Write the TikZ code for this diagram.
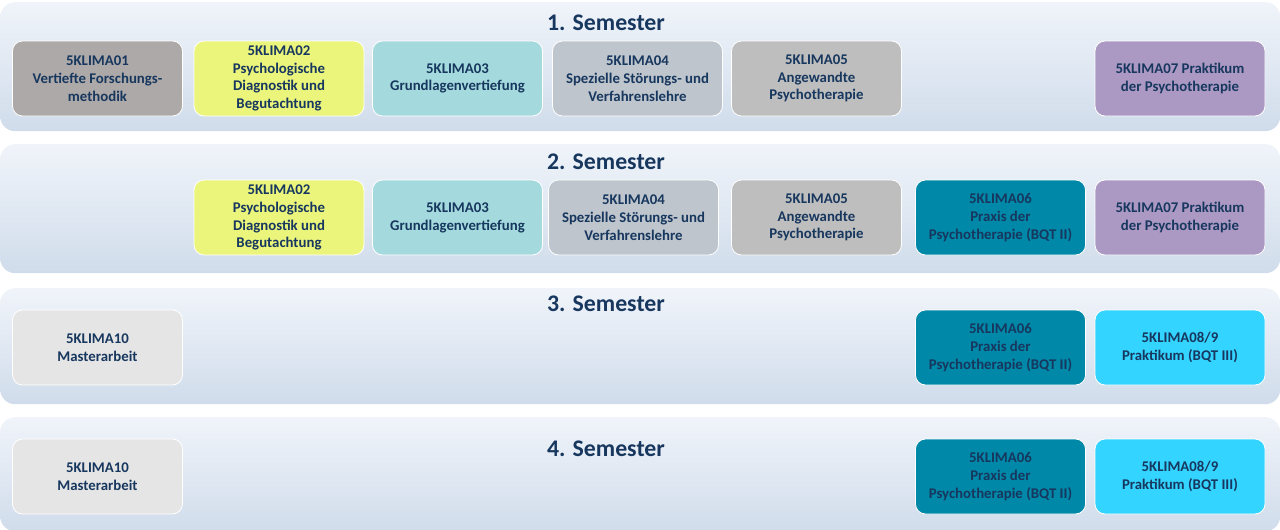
\documentclass[tikz,border=0pt]{standalone}
\usepackage{fontspec}
\setmainfont{Carlito}
\definecolor{navy}{HTML}{17375E}
\definecolor{bandtop}{HTML}{F0F4FA}
\definecolor{bandbot}{HTML}{D0DCEB}
\definecolor{c01}{HTML}{ADA9A8}
\definecolor{c02}{HTML}{EBF57C}
\definecolor{c03}{HTML}{A4DADD}
\definecolor{c04}{HTML}{BEC5CC}
\definecolor{c05}{HTML}{BEBEBE}
\definecolor{c06}{HTML}{0088A8}
\definecolor{c07}{HTML}{AB99C3}
\definecolor{c08}{HTML}{33D4FF}
\definecolor{c10}{HTML}{E5E5E5}
\tikzset{
  band/.style={rectangle, rounded corners=15pt, top color=bandtop, bottom color=bandbot,
    minimum width=1280pt, inner sep=0pt, anchor=north west},
  modbox/.style={rectangle, rounded corners=10pt, draw=white, line width=0.8pt,
    minimum width=170pt, minimum height=75pt, inner sep=1pt, align=center,
    text=navy, font=\fontsize{14.8}{17.8}\selectfont\bfseries},
  semtitle/.style={text=navy, font=\fontsize{23.8}{26}\selectfont\bfseries, inner sep=0pt}
}
\begin{document}
\begin{tikzpicture}[x=1pt,y=-1pt]
\useasboundingbox (0,0) rectangle (1280,530);
% bands
\node[band, minimum height=129pt] (band1) at (0,2) {};
\node[band, minimum height=129pt] (band2) at (0,144) {};
\node[band, minimum height=116pt] (band3) at (0,288) {};
\node[band, minimum height=114pt] (band4) at (0,417) {};
% titles
\node[semtitle] (t1) at (606,23) {1. Semester};
\node[semtitle] (t2) at (606,162) {2. Semester};
\node[semtitle] (t3) at (606,304) {3. Semester};
\node[semtitle] (t4) at (606,449) {4. Semester};
% row 1
\node[modbox, fill=c01] (r1m01) at (97.5,78.5) {5KLIMA01\\Vertiefte Forschungs-\\methodik};
\node[modbox, fill=c02] (r1m02) at (279,78.5) {5KLIMA02\\Psychologische\\Diagnostik und\\Begutachtung};
\node[modbox, fill=c03] (r1m03) at (457.5,78.5) {5KLIMA03\\Grundlagenvertiefung};
\node[modbox, fill=c04] (r1m04) at (637.5,78.5) {5KLIMA04\\Spezielle Störungs- und\\Verfahrenslehre};
\node[modbox, fill=c05] (r1m05) at (816.5,78.5) {5KLIMA05\\Angewandte\\Psychotherapie};
\node[modbox, fill=c07] (r1m07) at (1180,78.5) {5KLIMA07 Praktikum\\der Psychotherapie};
% row 2
\node[modbox, fill=c02] (r2m02) at (279,217.5) {5KLIMA02\\Psychologische\\Diagnostik und\\Begutachtung};
\node[modbox, fill=c03] (r2m03) at (457.5,217.5) {5KLIMA03\\Grundlagenvertiefung};
\node[modbox, fill=c04] (r2m04) at (633.5,217.5) {5KLIMA04\\Spezielle Störungs- und\\Verfahrenslehre};
\node[modbox, fill=c05] (r2m05) at (816.5,217.5) {5KLIMA05\\Angewandte\\Psychotherapie};
\node[modbox, fill=c06] (r2m06) at (1000.5,217.5) {5KLIMA06\\Praxis der\\Psychotherapie (BQT II)};
\node[modbox, fill=c07] (r2m07) at (1180,217.5) {5KLIMA07 Praktikum\\der Psychotherapie};
% row 3
\node[modbox, fill=c10] (r3m10) at (97.5,347.5) {5KLIMA10\\Masterarbeit};
\node[modbox, fill=c06] (r3m06) at (1000.5,347.5) {5KLIMA06\\Praxis der\\Psychotherapie (BQT II)};
\node[modbox, fill=c08] (r3m08) at (1180,347.5) {5KLIMA08/9\\Praktikum (BQT III)};
% row 4
\node[modbox, fill=c10] (r4m10) at (97.5,476.5) {5KLIMA10\\Masterarbeit};
\node[modbox, fill=c06] (r4m06) at (1000.5,476.5) {5KLIMA06\\Praxis der\\Psychotherapie (BQT II)};
\node[modbox, fill=c08] (r4m08) at (1180,476.5) {5KLIMA08/9\\Praktikum (BQT III)};
\end{tikzpicture}
\end{document}
